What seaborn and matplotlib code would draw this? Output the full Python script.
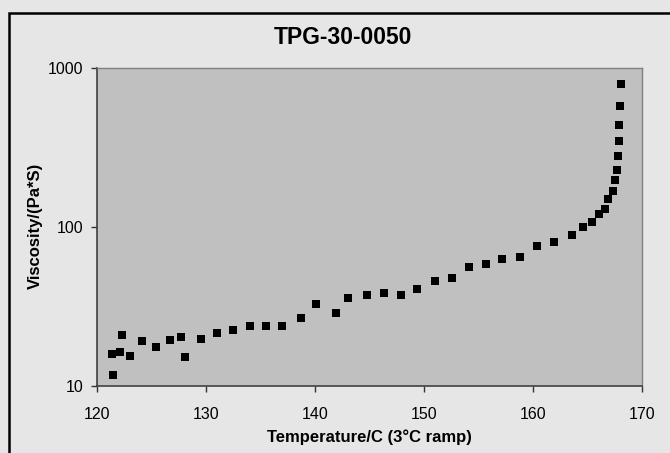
import matplotlib
matplotlib.use("Agg")
import matplotlib.pyplot as plt
import matplotlib.patches as mpatches
from matplotlib.ticker import FixedLocator, FixedFormatter, NullLocator
import numpy as np
import pandas as pd
import seaborn as sns

# values
temperature = [121.4, 121.5, 122.1, 122.3, 123.0, 124.1, 125.4, 126.7, 127.7, 128.1,
               129.5, 131.0, 132.5, 134.0, 135.5, 137.0, 138.7, 140.1, 141.9, 143.0,
               144.8, 146.3, 147.9, 149.4, 151.0, 152.6, 154.1, 155.7, 157.2, 158.8,
               160.4, 161.9, 163.6, 164.6, 165.4, 166.1, 166.6, 166.9, 167.3, 167.5,
               167.7, 167.8, 167.9, 167.9, 168.0, 168.1]
viscosity = [15.9, 11.8, 16.3, 20.9, 15.5, 19.1, 17.7, 19.5, 20.4, 15.2,
             19.8, 21.4, 22.4, 23.9, 23.8, 23.7, 26.9, 32.8, 28.9, 35.6,
             37.2, 38.6, 37.3, 40.9, 45.7, 48.0, 56.2, 58.2, 63.2, 64.4,
             76.0, 80.5, 88.7, 100.0, 108.0, 121.0, 130.0, 150.0, 169.0, 197.0,
             228.0, 279.0, 346.0, 438.0, 574.0, 793.0]
x_ticks = [120, 130, 140, 150, 160, 170]
y_ticks = [10, 100, 1000]
y_tick_labels = ["10", "100", "1000"]

df = pd.DataFrame({"Temperature": temperature, "Viscosity": viscosity})

sns.set_theme(style="white")
plt.rcParams["font.family"] = ["Liberation Sans", "DejaVu Sans"]

fig = plt.figure(figsize=(6.7, 4.53), dpi=100)
fig.patch.set_facecolor("#e6e6e6")

# chart frame (cut off at right and bottom like the reference)
frame = mpatches.Rectangle((9 / 670, -0.2), 1.2, (453 - 13) / 453 + 0.2,
                           transform=fig.transFigure, fill=False,
                           edgecolor="black", linewidth=1.8, zorder=0)
fig.patches.append(frame)

ax = fig.add_axes([97 / 670, 67 / 453, 545 / 670, 318 / 453])
ax.set_facecolor("#c0c0c0")

sns.scatterplot(data=df, x="Temperature", y="Viscosity", marker="s",
                color="black", s=26, linewidth=0, ax=ax, zorder=3)

ax.set_yscale("log")
ax.set_xlim(120, 170)
ax.set_ylim(10, 1000)
ax.xaxis.set_major_locator(FixedLocator(x_ticks))
ax.yaxis.set_major_locator(FixedLocator(y_ticks))
ax.yaxis.set_major_formatter(FixedFormatter(y_tick_labels))
ax.yaxis.set_minor_locator(NullLocator())
ax.set_xlabel("")
ax.set_ylabel("")

ax.tick_params(axis="both", which="major", direction="out", length=4,
               width=1, color="#333333", labelsize=11.5, labelcolor="black",
               bottom=True, left=True)
ax.tick_params(axis="x", pad=11)
ax.tick_params(axis="y", pad=6)

for side in ["top", "right"]:
    ax.spines[side].set_color("#808080")
    ax.spines[side].set_linewidth(1)
for side in ["bottom", "left"]:
    ax.spines[side].set_color("#404040")
    ax.spines[side].set_linewidth(1.2)

fig.text(343 / 670, (453 - 37) / 453, "TPG-30-0050", ha="center", va="center",
         fontsize=16.5, fontweight="bold", color="black")
fig.text(369.5 / 670, (453 - 437) / 453, "Temperature/C (3°C ramp)", ha="center",
         va="center", fontsize=12, fontweight="bold", color="black")
fig.text(35 / 670, (453 - 226) / 453, "Viscosity/(Pa*S)", ha="center", va="center",
         rotation=90, fontsize=12, fontweight="bold", color="black")

fig.savefig("out.png", dpi=100, facecolor=fig.get_facecolor())
